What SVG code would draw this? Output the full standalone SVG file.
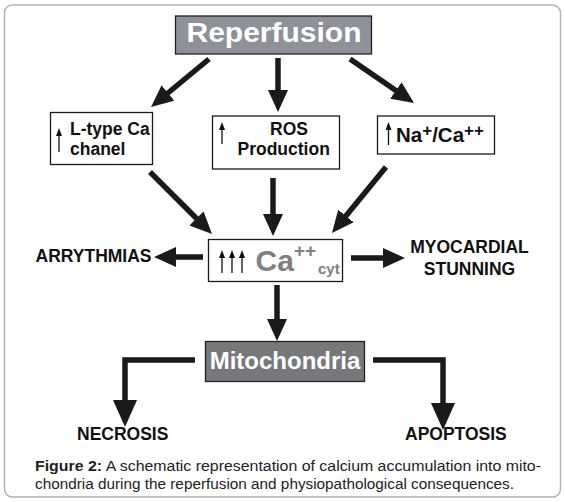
<svg xmlns="http://www.w3.org/2000/svg" width="565" height="502" viewBox="0 0 565 502">
<style>
.box{fill:#fff;stroke:#1a1a1a;stroke-width:1.3}
.lbl{font-family:"Liberation Sans",Arial,sans-serif;font-weight:bold;font-size:17.5px;fill:#111}
.white{font-family:"Liberation Sans",Arial,sans-serif;font-weight:bold;fill:#fff}
.conn{fill:none;stroke:#1a1a1a;stroke-width:5.5;stroke-linejoin:miter}
.up{stroke:#111;stroke-width:1.3;fill:none}
.cap{font-family:"Liberation Sans",Arial,sans-serif;font-size:14px;fill:#222}
.gray{fill:#808080}
</style>
<defs>
<marker id="ah" viewBox="0 0 22 20" refX="4" refY="10" markerWidth="22" markerHeight="20" markerUnits="userSpaceOnUse" orient="auto">
<path d="M0,0 L22,10 L0,20 z" fill="#1a1a1a"/>
</marker>
<marker id="ah2" viewBox="0 0 27 24" refX="5" refY="12" markerWidth="27" markerHeight="24" markerUnits="userSpaceOnUse" orient="auto">
<path d="M0,0 L27,12 L0,24 z" fill="#1a1a1a"/>
</marker>
<marker id="sm" viewBox="0 0 8 6" refX="1" refY="3" markerWidth="8" markerHeight="6" markerUnits="userSpaceOnUse" orient="auto">
<path d="M0,0 L8,3 L0,6 z" fill="#111"/>
</marker>
</defs>
<rect x="4.5" y="5" width="556" height="492" rx="8" fill="#fff" stroke="#b3b3b3" stroke-width="1.5"/>

<g id="connectors">
<line class="conn" x1="209" y1="59" x2="164.9" y2="95.5" marker-end="url(#ah)"/>
<line class="conn" x1="278" y1="58" x2="278" y2="94" marker-end="url(#ah)"/>
<line class="conn" x1="350" y1="59" x2="399.2" y2="92.8" marker-end="url(#ah)"/>
<line class="conn" x1="150" y1="172" x2="199.3" y2="221.3" marker-end="url(#ah)"/>
<line class="conn" x1="273" y1="178" x2="273" y2="218" marker-end="url(#ah)"/>
<line class="conn" x1="386" y1="167" x2="343.4" y2="219.1" marker-end="url(#ah)"/>
<line class="conn" x1="203" y1="257" x2="172" y2="257" marker-end="url(#ah)"/>
<line class="conn" x1="351" y1="258" x2="387" y2="258" marker-end="url(#ah)"/>
<line class="conn" x1="277" y1="285" x2="277" y2="323" marker-end="url(#ah)"/>
<path class="conn" d="M195,360 H125 V405" marker-end="url(#ah2)"/>
<path class="conn" d="M373,360 H443 V408" marker-end="url(#ah2)"/>
</g>

<g id="reperfusion">
<rect x="175.5" y="16" width="196" height="38" fill="#8e9197" stroke="#222" stroke-width="1.3"/>
<text class="white" x="186.5" y="42" font-size="27" textLength="175" lengthAdjust="spacingAndGlyphs">Reperfusion</text>
</g>

<g id="ltype">
<rect class="box" x="50.5" y="112.5" width="102" height="52"/>
<line class="up" x1="59" y1="152" x2="59" y2="135" marker-end="url(#sm)"/>
<text class="lbl" x="70" y="135">L-type Ca</text>
<text class="lbl" x="70" y="154.5">chanel</text>
</g>

<g id="ros">
<rect class="box" x="212.5" y="116" width="127" height="53"/>
<line class="up" x1="222" y1="144" x2="222" y2="129" marker-end="url(#sm)"/>
<text class="lbl" x="270" y="134.5">ROS</text>
<text class="lbl" x="237.5" y="155">Production</text>
</g>

<g id="naca">
<rect class="box" x="377.5" y="116" width="117" height="38"/>
<line class="up" x1="388.5" y1="145" x2="388.5" y2="129" marker-end="url(#sm)"/>
<text class="lbl" x="396" y="141.5" style="font-size:20.5px">Na<tspan style="font-size:17px" dy="-6">+</tspan><tspan dy="6">/Ca</tspan><tspan style="font-size:17px" dy="-6">++</tspan></text>
</g>

<g id="ca">
<rect class="box" x="208.5" y="239.5" width="134" height="42"/>
<line class="up" x1="222" y1="273" x2="222" y2="257" marker-end="url(#sm)"/>
<line class="up" x1="232" y1="273" x2="232" y2="257" marker-end="url(#sm)"/>
<line class="up" x1="242" y1="273" x2="242" y2="257" marker-end="url(#sm)"/>
<text class="lbl gray" x="255.5" y="270.5" style="font-size:30px">Ca</text>
<text class="lbl gray" x="294" y="257" style="font-size:19px">++</text>
<text class="lbl gray" x="318" y="274" style="font-size:15px">cyt</text>
</g>

<g id="arrythmias">
<text class="lbl" x="35.5" y="262">ARRYTHMIAS</text>
</g>

<g id="stunning">
<text class="lbl" x="469.5" y="253" text-anchor="middle">MYOCARDIAL</text>
<text class="lbl" x="469.5" y="274.5" text-anchor="middle">STUNNING</text>
</g>

<g id="mitochondria">
<rect x="205.5" y="341.5" width="159" height="40" fill="#77787c" stroke="#222" stroke-width="1.3"/>
<text class="white" x="285" y="369" font-size="24" text-anchor="middle">Mitochondria</text>
</g>

<g id="necrosis">
<text class="lbl" x="77" y="440">NECROSIS</text>
</g>

<g id="apoptosis">
<text class="lbl" x="405" y="440">APOPTOSIS</text>
</g>

<g id="caption">
<text class="cap" x="35" y="470.5" textLength="506" lengthAdjust="spacingAndGlyphs"><tspan font-weight="bold">Figure 2:</tspan> A schematic representation of calcium accumulation into mito-</text>
<text class="cap" x="35" y="488.5" textLength="479" lengthAdjust="spacingAndGlyphs">chondria during the reperfusion and physiopathological consequences.</text>
</g>
</svg>
